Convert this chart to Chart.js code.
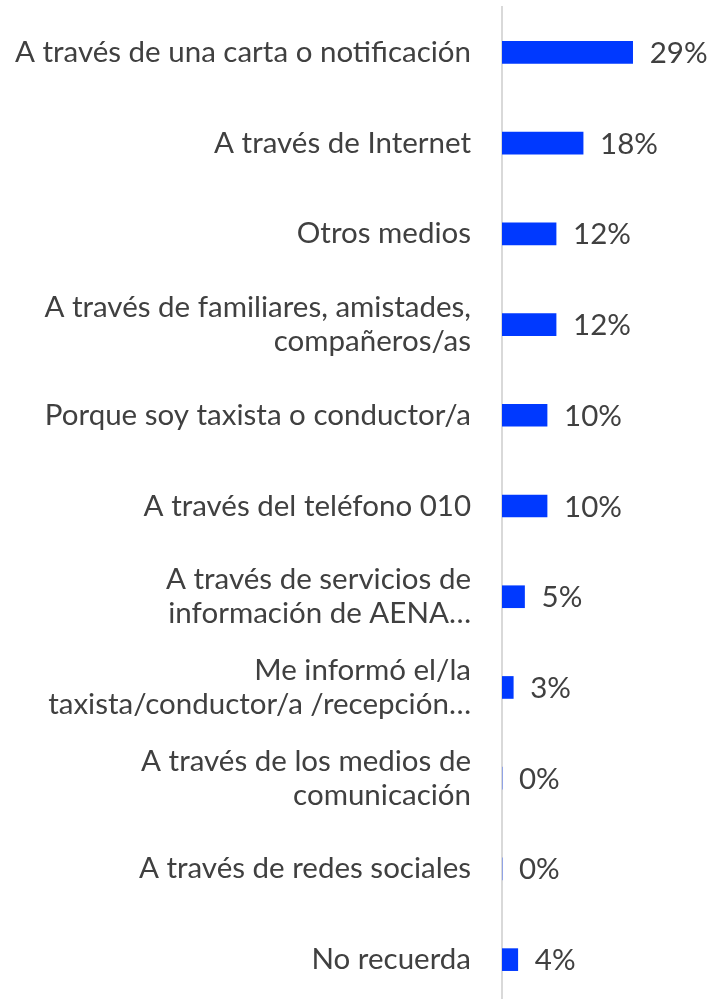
<!DOCTYPE html>
<html>
<head>
<meta charset="utf-8">
<script src="https://cdn.jsdelivr.net/npm/chart.js@4"></script>
<style>
  html, body { margin: 0; padding: 0; background: #fff; overflow: hidden; }
</style>
</head>
<body>
<canvas id="grafico" width="707" height="1006"></canvas>
<script>
/* Dados do grafico */
var categorias = [
  'A través de una carta o notificación',
  'A través de Internet',
  'Otros medios',
  ['A través de familiares, amistades,', 'compañeros/as'],
  'Porque soy taxista o conductor/a',
  'A través del teléfono 010',
  ['A través de servicios de', 'información de AENA…'],
  ['Me informó el/la', 'taxista/conductor/a /recepción…'],
  ['A través de los medios de', 'comunicación'],
  'A través de redes sociales',
  'No recuerda'
];
var valores = [29, 18, 12, 12, 10, 10, 5, 2.5, 0, 0, 3.5];
var rotulos = ['29%', '18%', '12%', '12%', '10%', '10%', '5%', '3%', '0%', '0%', '4%'];

var corBarra = '#0039FF';
var corTexto = '#404040';
var fonte = 'Lato, "Open Sans", sans-serif';

/* Plugin simples para escrever os valores ao lado das barras */
var rotulosPlugin = {
  id: 'rotulos',
  afterDatasetsDraw(chart) {
    var ctx = chart.ctx;
    var meta = chart.getDatasetMeta(0);
    ctx.save();
    ctx.font = '29.5px ' + fonte;
    ctx.fillStyle = corTexto;
    ctx.textAlign = 'left';
    ctx.textBaseline = 'middle';
    meta.data.forEach(function (bar, i) {
      ctx.fillText(rotulos[i], bar.x + 17, bar.y + 1);
    });
    ctx.restore();
  }
};

var ctx = document.getElementById('grafico').getContext('2d');
var chart = new Chart(ctx, {
  type: 'bar',
  data: {
    labels: categorias,
    datasets: [{
      data: valores,
      backgroundColor: corBarra,
      borderWidth: 0,
      barThickness: 22
    }]
  },
  options: {
    indexAxis: 'y',
    responsive: false,
    animation: false,
    layout: { padding: { top: 7, right: 0, bottom: 1, left: 0 } },
    plugins: {
      legend: { display: false },
      tooltip: { enabled: false }
    },
    scales: {
      x: {
        display: false,
        min: 0,
        max: 45.5
      },
      y: {
        afterFit(scale) {
          scale.width = 502;
          scale.paddingTop = 0;
          scale.paddingBottom = 0;
        },
        grid: { display: false, drawTicks: false },
        border: { display: true, color: '#d9d9d9', width: 2 },
        ticks: {
          padding: 31,
          color: corTexto,
          font: { family: fonte, size: 29.5, lineHeight: 1.15 }
        }
      }
    }
  },
  plugins: [rotulosPlugin]
});
</script>
</body>
</html>
